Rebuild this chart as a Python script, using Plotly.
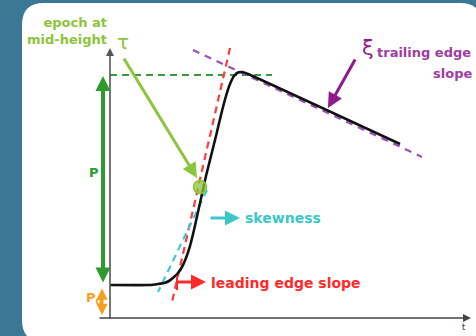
import plotly.graph_objects as go

# ---- data (time t, power P; origin at the axes corner) ----
wave_t = [0, 40, 48, 54, 59, 64, 68, 72, 76, 80, 84, 88, 92, 96, 101, 106, 111, 116, 120, 124, 128, 132, 138, 290]
wave_p = [33, 33, 34, 35, 37, 41, 45, 51, 60, 72, 88, 106, 124, 142, 162, 182, 203, 222, 234, 242, 245.5, 246, 244, 174]

lead_t = [120, 62]        # leading edge tangent
lead_p = [270, 16]
skew_t = [97, 48]         # skewness tangent
skew_p = [128, 26]
trail_t = [83, 312]       # trailing edge fit
trail_p = [268, 161]
peak_t = [0, 162]         # peak level
peak_p = [243, 243]
mid_t = [90]              # epoch at mid-height
mid_p = [131]

P0 = 33
P_top = 242

BG = "#3B7895"
YG = "#8CC43C"
DG = "#2E9A2E"
OR = "#F5A020"
CY = "#3CC8C8"
RD = "#FF2A2A"
PU = "#8E1A8E"
PT = "#A03CA0"
FONT = "DejaVu Sans"

fig = go.Figure()

fig.add_trace(go.Scatter(x=peak_t, y=peak_p, mode="lines",
                         line=dict(color="#3A9A3A", width=2, dash="7px,5px"), hoverinfo="skip"))
fig.add_trace(go.Scatter(x=trail_t, y=trail_p, mode="lines",
                         line=dict(color="#9A50B8", width=2.2, dash="7px,6px"), hoverinfo="skip"))
fig.add_trace(go.Scatter(x=lead_t, y=lead_p, mode="lines",
                         line=dict(color="#FF3A3A", width=2.2, dash="7px,5px"), hoverinfo="skip"))
fig.add_trace(go.Scatter(x=skew_t, y=skew_p, mode="lines",
                         line=dict(color="#44C8D8", width=2.2, dash="7px,5px"), hoverinfo="skip"))
fig.add_trace(go.Scatter(x=wave_t, y=wave_p, mode="lines",
                         line=dict(color="#111111", width=2.6, shape="spline", smoothing=0.4),
                         hoverinfo="skip"))
fig.add_trace(go.Scatter(x=mid_t, y=mid_p, mode="markers",
                         marker=dict(size=13, color="rgba(140,196,60,0.75)",
                                     line=dict(color=YG, width=1.5)), hoverinfo="skip"))

# white rounded panel
x0, x1, yb, yt, r = -88, 372, -24, 315, 22
panel = (f"M {x0+r},{yt} L {x1-r},{yt} Q {x1},{yt} {x1},{yt-r} L {x1},{yb+r} "
         f"Q {x1},{yb} {x1-r},{yb} L {x0+r},{yb} Q {x0},{yb} {x0},{yb+r} "
         f"L {x0},{yt-r} Q {x0},{yt} {x0+r},{yt} Z")
shapes = [dict(type="path", path=panel, xref="x", yref="y", fillcolor="white",
               line=dict(width=0), layer="below")]

ann = []

def arrow(xs, ys, xe, ye, color, width, head=2, side="end", size=1.0):
    ann.append(dict(x=xe, y=ye, ax=xs, ay=ys, xref="x", yref="y", axref="x", ayref="y",
                    showarrow=True, arrowhead=head, arrowsize=size, arrowwidth=width,
                    arrowcolor=color, arrowside=side, text=""))

def label(x, y, text, color, size=14, xanchor="left", align="left", bold=True):
    t = f"<b>{text}</b>" if bold else text
    ann.append(dict(x=x, y=y, xref="x", yref="y", text=t, showarrow=False,
                    xanchor=xanchor, yanchor="middle", align=align,
                    font=dict(family=FONT, size=size, color=color)))

# axes
arrow(0, -2, 0, 270, "#555555", 1.6, head=2, size=1.0)
arrow(-12, 0, 361, 0, "#444444", 1.6, head=2, size=1.0)

# annotation arrows
arrow(-7, P0 + 1, -7, P_top, DG, 4, head=2, side="end+start", size=0.75)
arrow(-8, 31, -8, 3, OR, 3, head=2, side="end+start", size=0.75)
arrow(13, 261, 87, 140, YG, 3, head=2, size=1.0)
arrow(99, 100, 130, 100, CY, 3, head=2, size=1.0)
arrow(66, 36, 96, 36, RD, 3, head=2, size=1.0)
arrow(246, 260, 218, 210, PU, 3, head=2, size=1.0)
shapes.append(dict(type="line", xref="x", yref="y", x0=67, x1=67, y0=41, y1=28,
                   line=dict(color=RD, width=2)))

# labels
label(-1, 287, "epoch at<br>mid-height", YG, size=13, xanchor="right", align="right")
label(5, 276, "τ", YG, size=20, bold=False)
label(-23, 146, "P", DG, size=13)
label(-26, 20, "P<sub>0</sub>", OR, size=13)
label(133, 100, "skewness", CY, size=14)
label(99, 35, "leading edge slope", RD, size=14)
label(250, 270, "ξ", PU, size=21, bold=False)
label(265, 266, "trailing edge", PT, size=13)
label(364, 245, "slope", PT, size=13, xanchor="right")
label(350, -9, "t", "#222222", size=8, bold=False)

fig.update_layout(
    width=476, height=336, margin=dict(l=0, r=0, t=0, b=0),
    paper_bgcolor=BG, plot_bgcolor="rgba(0,0,0,0)", showlegend=False,
    xaxis=dict(range=[-110, 366], visible=False, fixedrange=True),
    yaxis=dict(range=[-18, 318], visible=False, fixedrange=True),
    shapes=shapes, annotations=ann,
)

fig.write_html("out.html")
